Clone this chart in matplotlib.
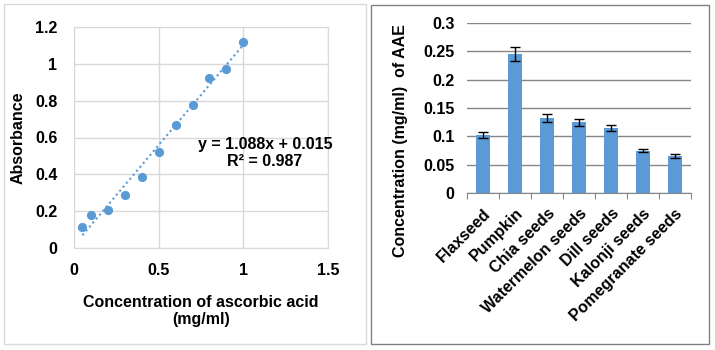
import numpy as np
import matplotlib.pyplot as plt
from matplotlib.patches import Rectangle

plt.rcParams['font.family'] = ['Liberation Sans', 'DejaVu Sans']
plt.rcParams['font.weight'] = 'bold'

# standard curve (ascorbic acid)
conc = [0.05, 0.1, 0.2, 0.3, 0.4, 0.5, 0.6, 0.7, 0.8, 0.9, 1.0]
absorb = [0.116, 0.178, 0.206, 0.286, 0.387, 0.523, 0.670, 0.778, 0.923, 0.974, 1.120]
slope, intercept = 1.088, 0.015

# seed extracts
seeds = ['Flaxseed', 'Pumpkin', 'Chia seeds', 'Watermelon seeds', 'Dill seeds',
         'Kalonji seeds', 'Pomegranate seeds']
aae = [0.102, 0.245, 0.133, 0.125, 0.115, 0.075, 0.066]
aae_err = [0.005, 0.012, 0.007, 0.006, 0.005, 0.003, 0.0035]

blue = '#5B9BD5'
W, H = 715, 350
fs = 11.5

fig = plt.figure(figsize=(W / 100, H / 100), dpi=100)

def px(x0, y0, x1, y1):
    # pixel box (top-left origin) -> figure fraction
    return [x0 / W, 1 - y1 / H, (x1 - x0) / W, (y1 - y0) / H]

# panel borders
fig.patches.append(Rectangle((4 / W, 1 - 344 / H), 362 / W, 340 / H, transform=fig.transFigure,
                             fill=False, edgecolor='#D9D9D9', linewidth=1))
fig.patches.append(Rectangle((371 / W, 1 - 344 / H), 338 / W, 339 / H, transform=fig.transFigure,
                             fill=False, edgecolor='#808080', linewidth=1))

# ---- left: calibration curve ----
ax1 = fig.add_axes(px(74, 27, 328, 248))
ax1.scatter(conc, absorb, s=44, color=blue, zorder=3, linewidths=0)
xs = np.array([conc[0], conc[-1]])
ax1.plot(xs, slope * xs + intercept, linestyle=(0, (1, 1.5)), color=blue, linewidth=1.5, zorder=2)
ax1.set_xlim(0, 1.5)
ax1.set_ylim(0, 1.2)
ax1.set_xticks([0, 0.5, 1, 1.5])
ax1.set_xticklabels(['0', '0.5', '1', '1.5'])
ax1.set_yticks([0, 0.2, 0.4, 0.6, 0.8, 1.0, 1.2])
ax1.set_yticklabels(['0', '0.2', '0.4', '0.6', '0.8', '1', '1.2'])
ax1.grid(True, color='#D9D9D9', linewidth=1)
ax1.set_axisbelow(True)
for s in ax1.spines.values():
    s.set_color('#D9D9D9')
ax1.tick_params(length=0, labelsize=fs, pad=11)
ax1.tick_params(axis='y', pad=12)
ax1.text(1.128, 0.516, 'y = 1.088x + 0.015\nR² = 0.987', ha='center', va='center',
         fontsize=fs, fontweight='bold', linespacing=1.2)
fig.text(18 / W, 1 - 138 / H, 'Absorbance', rotation=90, ha='center', va='center',
         fontsize=fs, fontweight='bold')
fig.text(201 / W, 1 - 311 / H, 'Concentration of ascorbic acid\n(mg/ml)', ha='center',
         va='center', fontsize=fs, fontweight='bold', linespacing=1.15)

# ---- right: seed extracts ----
ax2 = fig.add_axes(px(467, 22.7, 691, 193.3))
pos = np.arange(len(seeds))
ax2.bar(pos, aae, width=0.42, color=blue, zorder=2)
ax2.errorbar(pos, aae, yerr=aae_err, fmt='none', ecolor='black', elinewidth=1,
             capsize=3.5, capthick=1, zorder=3)
ax2.set_xlim(-0.5, len(seeds) - 0.5)
ax2.set_ylim(0, 0.3)
ax2.set_yticks([0, 0.05, 0.1, 0.15, 0.2, 0.25, 0.3])
ax2.set_yticklabels(['0', '0.05', '0.1', '0.15', '0.2', '0.25', '0.3'])
ax2.yaxis.grid(True, color='#868686', linewidth=1)
ax2.set_axisbelow(True)
for k in ['left', 'top', 'right']:
    ax2.spines[k].set_visible(False)
ax2.spines['bottom'].set_color('#868686')
ax2.set_xticks(np.arange(-0.5, len(seeds)), minor=False)
ax2.set_xticklabels([])
ax2.tick_params(axis='x', which='major', length=4, color='#868686')
ax2.set_xticks(pos, minor=True)
ax2.set_xticklabels(seeds, minor=True, rotation=45, ha='right', rotation_mode='anchor',
                    fontsize=fs, fontweight='bold')
ax2.tick_params(axis='x', which='minor', length=0, pad=9)
ax2.tick_params(axis='y', length=0, labelsize=fs, pad=9)
fig.text(401 / W, 1 - 141 / H, 'Concentration (mg/ml)  of AAE', rotation=90, ha='center',
         va='center', fontsize=fs, fontweight='bold')

fig.savefig('out.png', dpi=100)
